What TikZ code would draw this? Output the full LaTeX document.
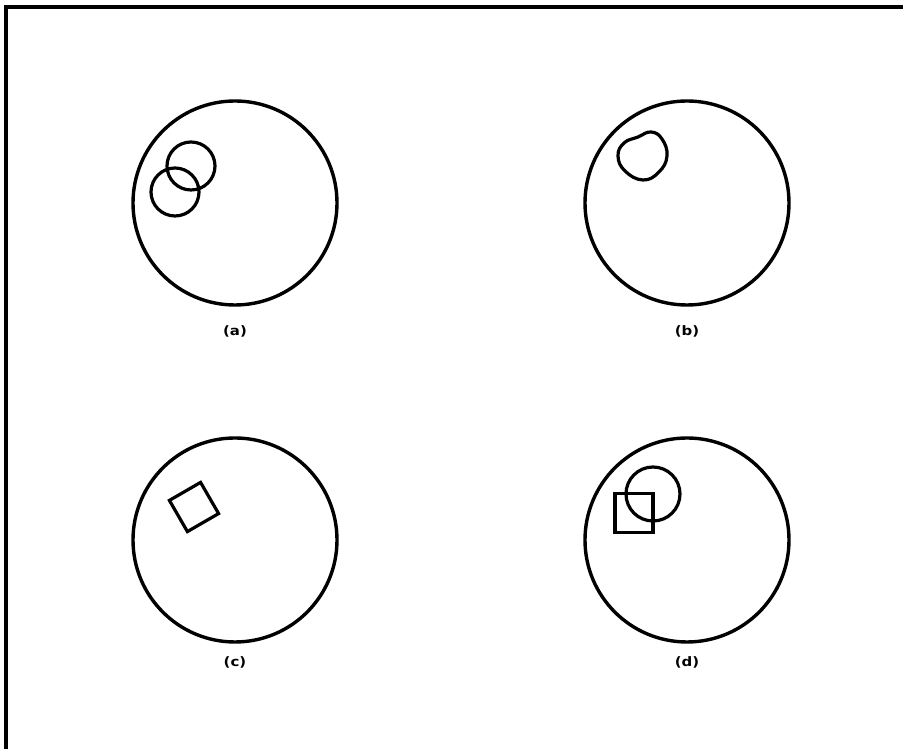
\documentclass[tikz,border=0pt]{standalone}
\usepackage{fontspec}
\newfontfamily\labelfont[FakeStretch=1.15]{DejaVu Sans}
\usetikzlibrary{positioning}

\begin{document}
\begin{tikzpicture}[
    x=1pt, y=1pt,
    disc/.style={
        circle,
        draw=black,
        line width=3.4pt,
        minimum size=204pt,
        inner sep=0pt
    },
    spot/.style={
        circle,
        draw=black,
        line width=3.2pt,
        minimum size=48pt,
        inner sep=0pt
    },
    patch/.style={
        rectangle,
        draw=black,
        line width=3.2pt,
        minimum size=37pt,
        inner sep=0pt
    },
    caption/.style={
        font=\labelfont\bfseries\fontsize{13}{13}\selectfont,
        inner sep=0pt
    }
]
\useasboundingbox (0,0) rectangle (903,749);

% frame (top and left edge only)
\coordinate (frameTL) at (6,742);
\coordinate (frameR) at (903,742);
\coordinate (frameB) at (6,0);
\draw[line width=3.4pt, line join=miter] (frameR) -- (frameTL) -- (frameB);

% the four discs
\node[disc] (discA) at (235,546) {};
\node[disc] (discB) at (687,546) {};
\node[disc] (discC) at (235,209) {};
\node[disc] (discD) at (687,209) {};

\node[caption, below=19pt of discA] (capA) {(a)};
\node[caption, below=19pt of discB] (capB) {(b)};
\node[caption, below=13pt of discC] (capC) {(c)};
\node[caption, below=13pt of discD] (capD) {(d)};

% (a) two overlapping spots
\node[spot] (spotA1) at (191,583) {};
\node[spot] (spotA2) at (175,557) {};

% (b) one irregular spot
\draw[line width=3.2pt] plot[smooth cycle, tension=0.75] coordinates {
    (618,593) (624,606) (638,612) (651,617) (662,610)
    (667,593) (659,577) (643,569) (625,578)};

% (c) tilted square
\node[patch, minimum size=36pt, rotate=30] (patchC) at (194,242) {};

% (d) square and spot
\node[spot, minimum size=54pt] (spotD) at (653,255) {};
\node[patch, minimum width=38pt, minimum height=39pt] (patchD) at (634,236) {};

\end{tikzpicture}
\end{document}
